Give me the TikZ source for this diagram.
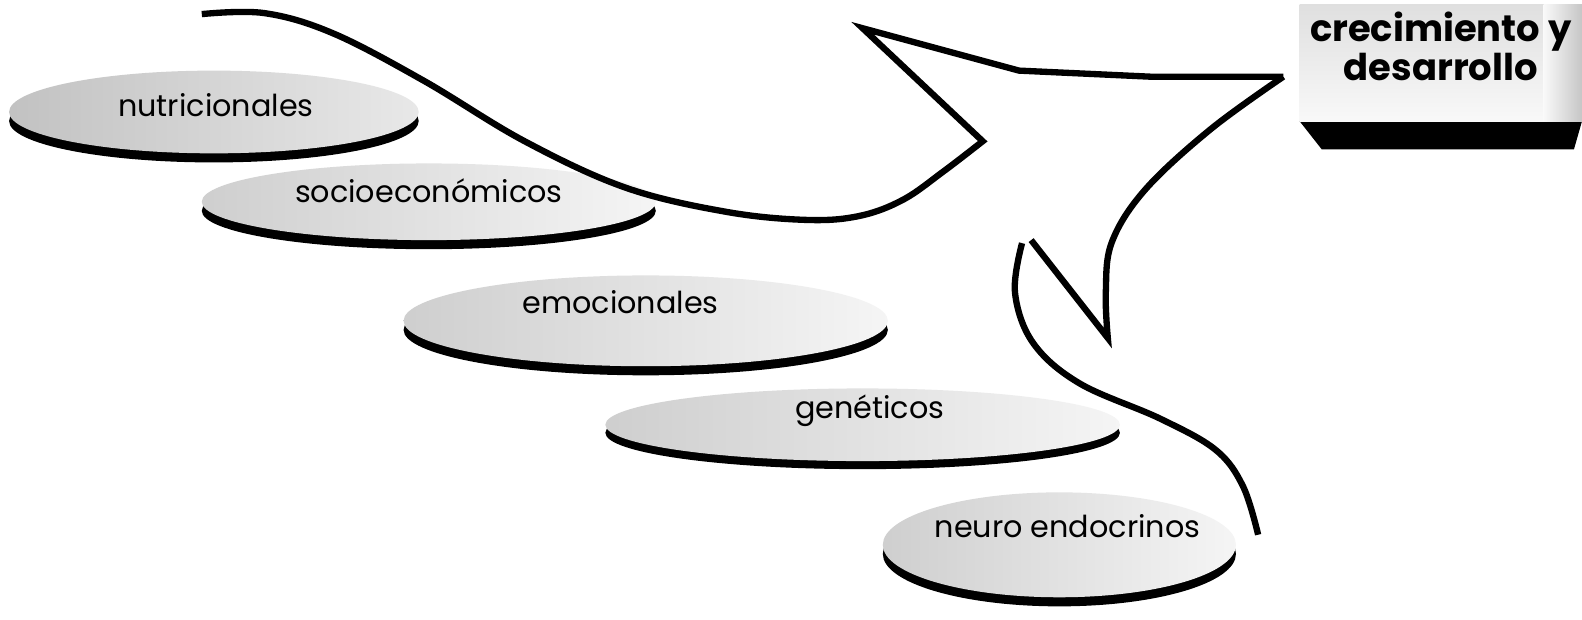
\documentclass[tikz,border=0pt]{standalone}
\usepackage{fontspec}
\setmainfont{Poppins}
\tikzset{
  disc/.style={left color=gray!38, right color=gray!8, draw=none},
  discshadow/.style={fill=black, draw=none},
  disclabel/.style={font=\fontsize{8.6}{10}\selectfont, text=black, inner sep=0pt},
  boxlabel/.style={font=\bfseries\fontsize{10.5}{11.2}\selectfont, text=black, align=center, inner sep=0pt},
  stroke/.style={line width=1.8pt, black}
}
\begin{document}
\begin{tikzpicture}[x=0.01009cm, y=-0.01009cm]
\useasboundingbox (0,0) rectangle (1568,614);
\fill[white] (0,0) rectangle (1568,614);

% ---- discs ----
% nutricionales
\fill[discshadow] (212,120) ellipse [x radius=203, y radius=41];
\shade[disc, left color=gray!48, right color=gray!18] (212,111) ellipse [x radius=203, y radius=41];
\node[disclabel] (nut) at (214,104) {nutricionales};
% socioeconomicos
\fill[discshadow] (425,209) ellipse [x radius=225, y radius=38];
\shade[disc] (425,200) ellipse [x radius=225, y radius=38];
\node[disclabel] (soc) at (425,189) {socioeconómicos};
% emocionales
\fill[discshadow] (640,327) ellipse [x radius=240, y radius=45];
\shade[disc] (640,318) ellipse [x radius=240, y radius=45];
\node[disclabel] (emo) at (615,299) {emocionales};
% geneticos
\fill[discshadow] (855,429) ellipse [x radius=255, y radius=36];
\shade[disc] (855,421) ellipse [x radius=255, y radius=36];
\node[disclabel] (gen) at (862,407) {genéticos};
% neuro endocrinos
\fill[discshadow] (1050,549) ellipse [x radius=175, y radius=52];
\shade[disc] (1050,540) ellipse [x radius=175, y radius=52];
\node[disclabel] (neu) at (1058,521) {neuro endocrinos};

% ---- box ----
\fill[black] (1288,120) -- (1568,120) -- (1560,148) -- (1310,148) -- cycle;
\shade[top color=gray!25, bottom color=gray!5] (1288,4) rectangle (1568,120);
\shade[left color=gray!5, right color=gray!45] (1530,4) rectangle (1568,120);
\node[boxlabel] (box) at (1428,46) {crecimiento y\\desarrollo};

% ---- arrow outline ----
\draw[stroke, line join=miter]
  plot[smooth, tension=0.6] coordinates {(200,14) (262,13) (330,33) (420,80) (520,140) (620,186) (720,210) (800,218) (852,214) (895,198) (935,170) (974,140)}
  -- (855,28) -- (1010,70) -- (1140,76) -- (1272,76)
  plot[smooth, tension=0.6] coordinates {(1272,76) (1200,128) (1135,188) (1102,240) (1096,290) (1098,335)}
  -- (1022,238);
\draw[stroke]
  plot[smooth, tension=0.6] coordinates {(1013,241) (1006,290) (1024,340) (1070,380) (1150,415) (1205,446) (1232,482) (1247,530)};
\end{tikzpicture}
\end{document}
